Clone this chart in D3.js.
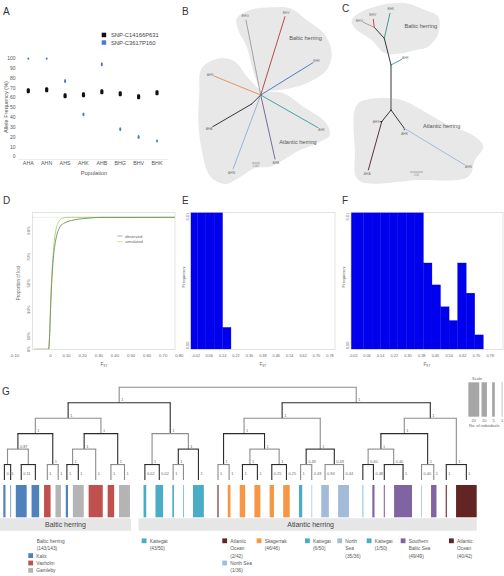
<!DOCTYPE html>
<html><head><meta charset="utf-8">
<script src="https://cdn.jsdelivr.net/npm/d3@7/dist/d3.min.js"></script>
<style>html,body{margin:0;padding:0;background:#fff;} svg{display:block;}</style>
</head><body>
<svg id="fig" width="504" height="576" font-family="'Liberation Sans', Arial, sans-serif"></svg>
<script>
// ================= DATA =================
// Panel A
const popsA = ["AHA","AHN","AHS","AHK","AHB","BHG","BHV","BHK"];
const snpNames = ["SNP-C14166P631","SNP-C3617P160"];
const freqSnp1 = [67,68,62,63,66,64,61,65];
const freqSnp2 = [100,100,77,43,94,28,20,16];
const errSnp1 = [2.5,2.5,2.5,2.5,2.5,2.5,2.5,2.5];
const errSnp2 = [1.5,1.5,2,2,2,2,2,1.5];
const ticksA = [0,10,20,30,40,50,60,70,80,90,100];

// Panel B: unrooted tree (parent, branch angle in degrees, branch length)
const treeB = [
  {id:"BHG", parent:"c",  angle:-101.1, len:76.4},
  {id:"BHV", parent:"c",  angle:-72.8,  len:82},
  {id:"BHK", parent:"c",  angle:-31.7,  len:61.5},
  {id:"AHK", parent:"c",  angle:29.7,   len:66},
  {id:"AHB", parent:"c",  angle:77.4,   len:65.6},
  {id:"AHN", parent:"c",  angle:110.5,  len:79},
  {id:"nA",  parent:"c",  angle:135,    len:12.7},
  {id:"AHA", parent:"nA", angle:149.8,  len:45.1},
  {id:"AHS", parent:"c",  angle:-157.9, len:50.4}
];
// Panel C: tree
const treeC = [
  {id:"n3",  parent:"r",  angle:-90,    len:45},
  {id:"n2",  parent:"n3", angle:-104.1, len:27.5},
  {id:"AHK", parent:"n3", angle:-28,    len:12.1},
  {id:"n1",  parent:"n2", angle:-132.3, len:14.9},
  {id:"BHK", parent:"n2", angle:-77.2,  len:25.6},
  {id:"BHG", parent:"n1", angle:-155.6, len:12.1},
  {id:"BHV", parent:"n1", angle:-97.1,  len:8.1},
  {id:"n5",  parent:"r",  angle:128.5,  len:14.9},
  {id:"AHA", parent:"n5", angle:105.5,  len:50.1},
  {id:"AHS", parent:"n5", angle:180,    len:1.5},
  {id:"n6",  parent:"r",  angle:54,     len:22.6},
  {id:"AHB", parent:"n6", angle:90,     len:1.5},
  {id:"AHN", parent:"n6", angle:31.2,   len:70.9}
];
// outline of the grey "Baltic"/"Atlantic" clouds (tree units, relative to the tree origin)
const cloudBalticB = [[-24,-76.7],[-10.7,-85],[9.3,-87.7],[29.3,-86.7],[46,-75],[64.3,-60],[71,-41.7],[66,-25],[49.3,-13.3],[29.3,-6.7],[9.3,-4.3],[1,-5.7],[-5.7,-18.3],[-14,-48.3],[-22.4,-65]];
const cloudAtlanticB = [[-59,-26.7],[-40.7,-36.7],[-25.7,-33.3],[-12.4,-16.7],[1,-5],[22.6,-1.7],[42.6,11.7],[64.3,26.7],[69.3,40],[56,48.3],[36,56.7],[22.6,65],[9.3,71.7],[-5.7,73],[-19,81],[-35.7,89],[-50.7,81],[-59,55],[-62.4,25],[-61.4,-1.7]];
const cloudBalticC = [[-39.3,-90],[-26,-100],[10.7,-107.3],[34,-100],[47.3,-93.3],[47.3,-76.7],[37.3,-63.3],[24,-60],[10.7,-56.7],[-6,-56.7],[-19.3,-70],[-36,-81.7]];
const cloudAtlanticC = [[-34.3,-5],[-16,-11.7],[10.7,-10],[30.7,0],[54,13.3],[84,26.7],[92.3,36.7],[84,50],[77.3,66.7],[27.3,70],[-32.7,70],[-36,40]];

// Panel D: cumulative Fst distributions
const fstD = [-0.1,-0.012,-0.005,0,0.005,0.01,0.015,0.02,0.03,0.04,0.05,0.06,0.08,0.1,0.13,0.16,0.2,0.25,0.3,0.8];
const observedD = [0,0,0.12,0.3,0.45,0.56,0.65,0.72,0.81,0.87,0.905,0.93,0.952,0.965,0.976,0.984,0.99,0.995,0.999,1];
const simulatedD = [0,0,0.12,0.3,0.47,0.6,0.7,0.78,0.88,0.935,0.965,0.982,0.995,1,1,1,1,1,1,1];
const ticksDx = [-0.1,0,0.1,0.2,0.3,0.4,0.5,0.6,0.7,0.8];
const ticksDxLab = ["-0.10","0","0.10","0.20","0.30","0.40","0.50","0.60","0.70","0.80"];
const ticksDy = [0,0.1,0.3,0.5,0.7,0.9];
const ticksDyLab = ["0%","10%","30%","50%","70%","90%"];

// Panels E, F: Fst histograms
const fstBins = [-0.06,-0.01,0.04,0.09,0.14,0.19,0.24,0.29,0.34,0.39,0.44,0.49,0.54,0.59,0.64,0.69,0.74];
const freqE = [0.05,0.42,0.35,0.16,0.0016,0,0,0,0,0,0,0,0,0,0,0];
const freqF = [0.03,0.14,0.16,0.13,0.1,0.08,0.06,0.05,0.03,0.0063,0.0047,0.0031,0.0021,0.0063,0.0041,0.00105];
const ticksEF = [-0.02,0.06,0.14,0.22,0.30,0.38,0.46,0.54,0.62,0.70,0.78];

// Panel G: population colours and dendrogram (support, individuals per leaf)
const popNames = ["Kalix","Vaxholm","Gamleby","Kattegat","Atlantic Ocean","Skagerrak","North Sea","Southern Baltic Sea"];
const popColors = ["#4f81bd","#c0504d","#b4b4b4","#4bacc6","#632523","#f79646","#a3bbd9","#8064a2"];
const balticPops = ["Kalix","Vaxholm","Gamleby"];
const N = (s, ...c) => ({s, c});
const L = (p, n, s) => ({p, n, s});
const dendrogram = N("",
  N("1",
    N("1",
      N("1",
        N("0.87", N("", L("Kalix",4,"0.11"), L("Kalix",1,"")), N("", L("Kalix",20,"0.11"), L("Kalix",14,""))),
        N("1", L("Vaxholm",12,"1"), L("Gamleby",10,"1"))),
      N("1",
        N("1", N("1", L("Kalix",4,"1"), L("Gamleby",20,"1")), L("Vaxholm",26,"1")),
        N("1", L("Vaxholm",12,"1"), L("Gamleby",20,"1")))),
    N("1",
      N("1", L("Kattegat",5,"0.02"), L("Kattegat",14,"0.02")),
      N("1", N("1", L("Kattegat",3,"1"), L("Kattegat",1,"")), L("Kattegat",20,"1")))),
  N("1",
    N("1",
      N("1",
        N("1", L("Atlantic Ocean",2,"1"), L("Skagerrak",5,"1")),
        N("1", N("1", L("Skagerrak",10,"1"), L("Skagerrak",11,"1")), N("1", L("Skagerrak",8,"0.25"), L("Skagerrak",12,"0.25")))),
      N("1",
        N("0.49", L("Kattegat",6,"1"), L("North Sea",1,"0.49")),
        N("0.49", L("North Sea",14,"0.94"), L("North Sea",20,"0.44")))),
    N("1",
      N("1",
        N("1", N("0.40", L("Kattegat",1,""), L("Southern Baltic Sea",4,"0.48")), N("0.40", L("Southern Baltic Sea",2,""), L("Southern Baltic Sea",33,"1"))),
        N("1", L("North Sea",1,"0.40"), L("Southern Baltic Sea",10,"1"))),
      N("1", L("Atlantic Ocean",2,"1"), L("Atlantic Ocean",38,"1")))));
const scaleCounts = [20,10,5,1];
const legendEntries = [
  {pop:null, lines:["Baltic herring","(143/143)"]},
  {pop:"Kalix", lines:["Kalix"]},
  {pop:"Vaxholm", lines:["Vaxholm"]},
  {pop:"Gamleby", lines:["Gamleby"]},
  {pop:"Kattegat", lines:["Kattegat","(43/50)"]},
  {pop:"Atlantic Ocean", lines:["Atlantic","Ocean","(2/42)"]},
  {pop:"North Sea", lines:["North Sea","(1/36)"]},
  {pop:"Skagerrak", lines:["Skagerrak","(46/46)"]},
  {pop:"Kattegat", lines:["Kattegat","(6/50)"]},
  {pop:"North Sea", lines:["North","Sea","(35/36)"]},
  {pop:"Kattegat", lines:["Kattegat","(1/50)"]},
  {pop:"Southern Baltic Sea", lines:["Southern","Baltic Sea","(49/49)"]},
  {pop:"Atlantic Ocean", lines:["Atlantic","Ocean","(40/42)"]}
];

// ================= DRAWING =================
const svg = d3.select("#fig");
const colorOf = d3.scaleOrdinal().domain(popNames).range(popColors);
function text(g, x, y, s, size, fill, anchor){
  return g.append("text").attr("x",x).attr("y",y).attr("font-size",size)
    .attr("fill",fill||"#555").attr("text-anchor",anchor||"start").text(s);
}
function rtext(g, x, y, s, size, fill, anchor){
  return g.append("text").attr("transform",`translate(${x},${y}) rotate(-90)`).attr("font-size",size)
    .attr("fill",fill||"#555").attr("text-anchor",anchor||"middle").text(s);
}
// panel letters
[["A",3,15],["B",182,15],["C",342,12],["D",3,204],["E",182,204],["F",342,204],["G",2,395]]
  .forEach(([t,x,y]) => text(svg,x,y,t,10,"#333"));

// ---------- Panel A ----------
{
  const g = svg.append("g");
  const x = d3.scalePoint().domain(popsA).range([28.3,157]);
  const y = d3.scaleLinear().domain([0,100]).range([156.7,58.3]);
  g.append("line").attr("x1",18).attr("x2",168).attr("y1",159.5).attr("y2",159.5).attr("stroke","#e0e0e0").attr("stroke-width",0.6);
  g.selectAll(".yt").data(ticksA).join("text").attr("x",15.5).attr("y",d=>y(d)+1.7)
    .attr("text-anchor","end").attr("font-size",5).attr("fill","#555").text(d=>d);
  g.selectAll(".xt").data(popsA).join("text").attr("x",d=>x(d)).attr("y",165.3)
    .attr("text-anchor","middle").attr("font-size",5.3).attr("fill","#555").text(d=>d);
  text(g,94,175.3,"Population",5.6,"#555","middle");
  rtext(g,7.5,107,"Allele Frequency (%)",5.6,"#555");
  const series = [
    {vals:freqSnp1, errs:errSnp1, color:"#111", w:3.2},
    {vals:freqSnp2, errs:errSnp2, color:"#4b7bd0", w:2.0}
  ];
  series.forEach(s => {
    const top = (i) => y(Math.min(100.8, s.vals[i]+s.errs[i]));
    g.selectAll(null).data(popsA).join("rect")
      .attr("x",(d,i)=>x(d)-s.w/2).attr("width",s.w)
      .attr("y",(d,i)=>top(i)).attr("rx",1).attr("ry",1.5)
      .attr("height",(d,i)=>y(s.vals[i]-s.errs[i]) - top(i))
      .attr("fill",s.color);
  });
  series.forEach((s,i) => {
    g.append("rect").attr("x",101.7).attr("y",32.7+i*7.6).attr("width",4.5).attr("height",4.5).attr("fill",s.color);
    text(g,111,37+i*7.6,snpNames[i],5.8,"#444");
  });
}

// ---------- unrooted trees (B, C) ----------
function layoutTree(data, rootId){
  const pos = {}; pos[rootId] = [0,0];
  data.forEach(b => {
    const p = pos[b.parent], a = b.angle*Math.PI/180;
    pos[b.id] = [p[0] + b.len*Math.cos(a), p[1] + b.len*Math.sin(a)];
  });
  return pos;
}
const cloud = d3.line().curve(d3.curveCatmullRomClosed.alpha(0.5));
function drawTree(cfg){
  const g = svg.append("g");
  const sx = d3.scaleLinear().domain([-100,100]).range([cfg.ox-100,cfg.ox+100]);
  const sy = d3.scaleLinear().domain([-100,100]).range([cfg.oy-100,cfg.oy+100]);
  cfg.clouds.forEach(c => g.append("path").attr("d",cloud(c.map(p=>[sx(p[0]),sy(p[1])]))).attr("fill","#e8e8e8"));
  const pos = layoutTree(cfg.data, cfg.root);
  cfg.data.forEach(b => {
    const p = pos[b.parent], q = pos[b.id];
    g.append("line").attr("x1",sx(p[0])).attr("y1",sy(p[1])).attr("x2",sx(q[0])).attr("y2",sy(q[1]))
      .attr("stroke",cfg.colors[b.id]||"#222").attr("stroke-width",cfg.widths[b.id]||0.9).attr("stroke-linecap","round");
    if (!b.id.startsWith("n")) {
      const a = b.angle*Math.PI/180;
      text(g, sx(q[0])+4.2*Math.cos(a), sy(q[1])+4.2*Math.sin(a)+1.2, b.id, 3.3, "#777","middle");
    }
  });
  cfg.labels.forEach(l => text(g,l[0],l[1],l[2],5.6,"#555","middle"));
  g.append("line").attr("x1",cfg.bar[0]).attr("x2",cfg.bar[0]+cfg.bar[2]).attr("y1",cfg.bar[1]).attr("y2",cfg.bar[1]).attr("stroke","#777").attr("stroke-width",0.6);
  text(g,cfg.bar[0]+cfg.bar[2]/2,cfg.bar[1]+3.5,cfg.bar[3],2.6,"#888","middle");
}
drawTree({ox:260.7, oy:95, data:treeB, root:"c",
  clouds:[cloudBalticB, cloudAtlanticB],
  colors:{BHG:"#9a9a9a",BHV:"#b0393a",BHK:"#3d6fb6",AHK:"#2f9c98",AHB:"#6d5a8d",AHN:"#8eaed3",nA:"#222",AHA:"#222",AHS:"#e58a4a"},
  widths:{}, labels:[[305.5,40,"Baltic herring"],[298,143.5,"Atlantic herring"]], bar:[252,163,8,"0.001"]});
drawTree({ox:391, oy:110, data:treeC, root:"r",
  clouds:[cloudBalticC, cloudAtlanticC],
  colors:{n3:"#9a9a9a",n2:"#222",n1:"#222",AHK:"#2f9c98",BHK:"#2f8f80",BHG:"#9a9a9a",BHV:"#c0393a",n5:"#222",AHA:"#4a1f22",AHS:"#222",n6:"#222",AHB:"#222",AHN:"#9db4d6"},
  widths:{n3:2}, labels:[[420.8,28,"Baltic herring"],[441.7,128,"Atlantic herring"]], bar:[410,172,13,"0.02"]});

// ---------- Panel D ----------
{
  const g = svg.append("g");
  const x = d3.scaleLinear().domain([-0.1,0.8]).range([34.4,179.3]);
  const y = d3.scaleLinear().domain([0,1]).range([349.3,217.3]);
  const fr = {x:32.3,y:212.3,w:142.7,h:137};
  g.append("clipPath").attr("id","clipD").append("rect").attr("x",fr.x).attr("y",fr.y).attr("width",fr.w).attr("height",fr.h);
  g.append("line").attr("x1",fr.x).attr("x2",fr.x+fr.w).attr("y1",y(1)).attr("y2",y(1)).attr("stroke","#e4e4e4").attr("stroke-width",0.6);
  const line = d3.line().x((d,i)=>x(fstD[i])).y(d=>y(d)).curve(d3.curveMonotoneX);
  g.append("path").attr("d",line(simulatedD)).attr("fill","none").attr("stroke","#a6d26e").attr("stroke-width",0.9).attr("clip-path","url(#clipD)");
  g.append("path").attr("d",line(observedD)).attr("fill","none").attr("stroke","#6f8f5e").attr("stroke-width",0.9).attr("clip-path","url(#clipD)");
  g.append("rect").attr("x",fr.x).attr("y",fr.y).attr("width",fr.w).attr("height",fr.h).attr("fill","none").attr("stroke","#cfcfcf").attr("stroke-width",0.6);
  ticksDx.forEach((t,i)=> text(g, x(t)+(i===0?-20:0), 357.3, ticksDxLab[i], 4.2, "#666","middle"));
  ticksDy.forEach((t,i)=> rtext(g, 29.5, y(t), ticksDyLab[i], 4.2, "#666"));
  rtext(g,19.5,283,"Proportion of loci",4.6,"#666");
  const fl = text(g,104,366,"F",4.6,"#666","middle"); fl.append("tspan").attr("font-size",3.2).attr("dy",1).text("ST");
  [["observed","#7a8a70"],["simulated","#b5d98a"]].forEach((l,i)=>{
    g.append("line").attr("x1",117.5).attr("x2",122.5).attr("y1",236+i*5.7).attr("y2",236+i*5.7).attr("stroke",l[1]).attr("stroke-width",0.7);
    text(g,125,237.5+i*5.7,l[0],4.2,"#666");
  });
}

// ---------- Panels E, F ----------
function histo(cfg){
  const g = svg.append("g");
  const x = d3.scaleLinear().domain(cfg.dom).range([cfg.x0,cfg.x1]);
  const y = d3.scaleLinear().domain([0,0.01]).range([349.3,212.3]);
  g.append("clipPath").attr("id",cfg.id).append("rect").attr("x",cfg.x0).attr("y",212.3).attr("width",cfg.x1-cfg.x0).attr("height",137);
  const bins = cfg.freq.map((f,i)=>({x0:fstBins[i], x1:fstBins[i+1], f})).filter(b=>b.f>0);
  g.append("g").attr("clip-path",`url(#${cfg.id})`).selectAll("rect").data(bins).join("rect")
    .attr("x",d=>x(d.x0)).attr("width",d=>x(d.x1)-x(d.x0)).attr("y",d=>y(d.f)).attr("height",d=>y(0)-y(d.f))
    .attr("fill","#0000ee").attr("stroke","#0000d4").attr("stroke-width",0.3);
  g.append("rect").attr("x",cfg.x0).attr("y",212.3).attr("width",cfg.x1-cfg.x0).attr("height",137).attr("fill","none").attr("stroke","#cfcfcf").attr("stroke-width",0.6);
  ticksEF.forEach(t => text(g, x(t), 357.3, t.toFixed(2), 3.8, "#666","middle"));
  rtext(g, cfg.x0-2.2, 212.8, "0.01", 4, "#666","end");
  rtext(g, cfg.x0-2.2, 349.3, "0.00", 4, "#666","start");
  rtext(g, cfg.x0-5.8, 277, "Frequency", 4.4, "#666");
  const fl = text(g,(cfg.x0+cfg.x1)/2,366,"F",4.6,"#666","middle"); fl.append("tspan").attr("font-size",3.2).attr("dy",1).text("ST");
}
histo({id:"clipE", dom:[-0.05,0.81], x0:190.7, x1:335, freq:freqE});
histo({id:"clipF", dom:[-0.033,0.855], x0:351, x1:503, freq:freqF});

// ---------- Panel G ----------
{
  const g = svg.append("g");
  const root = d3.hierarchy(dendrogram, d => d.c);
  d3.cluster().nodeSize([1,1]).separation((a,b) => {
    const path = a.path(b); let top = path[0];
    path.forEach(n => { if (n.depth < top.depth) top = n; });
    const bothBaltic = balticPops.includes(a.data.p) && balticPops.includes(b.data.p);
    const gap = top.height >= 5 ? 25 : (bothBaltic ? 9 : 17);
    return (a.data.n + b.data.n)/2 + gap;
  })(root);
  const leaves = root.leaves();
  const first = leaves[0], last = leaves[leaves.length-1];
  const x = d3.scaleLinear().domain([first.x - first.data.n/2, last.x + last.data.n/2]).range([3.3,476.7]);
  const y = d3.scaleLinear().domain([0, root.height]).range([387.3,480]);
  const w = n => x(n) - x(0);
  const lineCol = d => d.depth % 2 ? "#2b2b2b" : "#8c8c8c";
  // links
  root.descendants().forEach(d => {
    if (d.parent) g.append("line").attr("x1",x(d.x)).attr("x2",x(d.x)).attr("y1",y(d.parent.y)).attr("y2",y(d.y))
      .attr("stroke",lineCol(d.parent)).attr("stroke-width",1.1);
    if (d.children) {
      const c = d.children;
      g.append("line").attr("x1",x(c[0].x)-0.55).attr("x2",x(c[c.length-1].x)+0.55).attr("y1",y(d.y)).attr("y2",y(d.y))
        .attr("stroke",lineCol(d)).attr("stroke-width",1.1);
    }
  });
  // support values
  root.descendants().filter(d => d.parent && d.data.s).forEach(d => {
    text(g, x(d.x)+2, d.children ? y(d.y)-1.6 : y(d.y)-5, d.data.s, 3.9, "#666");
  });
  // leaf bars
  g.selectAll(".bar").data(leaves).join("rect")
    .attr("x",d=>x(d.x - d.data.n/2)).attr("width",d=>Math.max(0.7,w(d.data.n)))
    .attr("y",485).attr("height",32.3).attr("fill",d=>colorOf(d.data.p));
  // group boxes
  const bal = leaves.filter(d => balticPops.includes(d.data.p));
  const atl = leaves.filter(d => !balticPops.includes(d.data.p));
  const bx0 = 0, bx1 = x(bal[bal.length-1].x + bal[bal.length-1].data.n/2) + 1;
  const ax0 = x(atl[0].x - atl[0].data.n/2) - 5, ax1 = x(last.x + last.data.n/2);
  g.append("rect").attr("x",bx0).attr("y",518.3).attr("width",bx1-bx0).attr("height",12.4).attr("fill","#e6e6e6");
  g.append("rect").attr("x",ax0).attr("y",518.3).attr("width",ax1-ax0).attr("height",12.4).attr("fill","#e6e6e6");
  text(g,(bx0+bx1)/2,527.2,"Baltic herring",7,"#444","middle");
  text(g,(ax0+ax1)/2+3,527.2,"Atlantic herring",7,"#444","middle");
  // scale legend
  const sc = [473.8,484.2,493.5,502];
  text(g,477,379.5,"Scale",4,"#666","middle");
  scaleCounts.forEach((n,i) => {
    g.append("rect").attr("x",sc[i]-w(n)/2).attr("width",Math.max(0.7,w(n))).attr("y",382.3).attr("height",34.4).attr("fill","#a6a6a6");
    text(g,sc[i],422,n,4,"#666","middle");
  });
  text(g,469,427,"No. of individuals",4,"#666");
  // colour legend
  const lx = [28.3,28.3,28.3,28.3,141.7,222.3,222.3,256.7,305,337.3,366.7,400.7,449];
  const lrow = [0,2,3,4,0,0,3,0,0,0,0,0,0];
  const rowY = r => 542.7 + r*7.4;
  legendEntries.forEach((e,i) => {
    const tx = e.pop ? lx[i]+8 : lx[i]+8.4;
    if (e.pop) g.append("rect").attr("x",lx[i]).attr("y",rowY(lrow[i])-4.3).attr("width",4.8).attr("height",4.8).attr("fill",colorOf(e.pop));
    e.lines.forEach((s,j) => text(g,tx,rowY(lrow[i]+j),s,4.8,"#555"));
  });
}
</script>
</body></html>
